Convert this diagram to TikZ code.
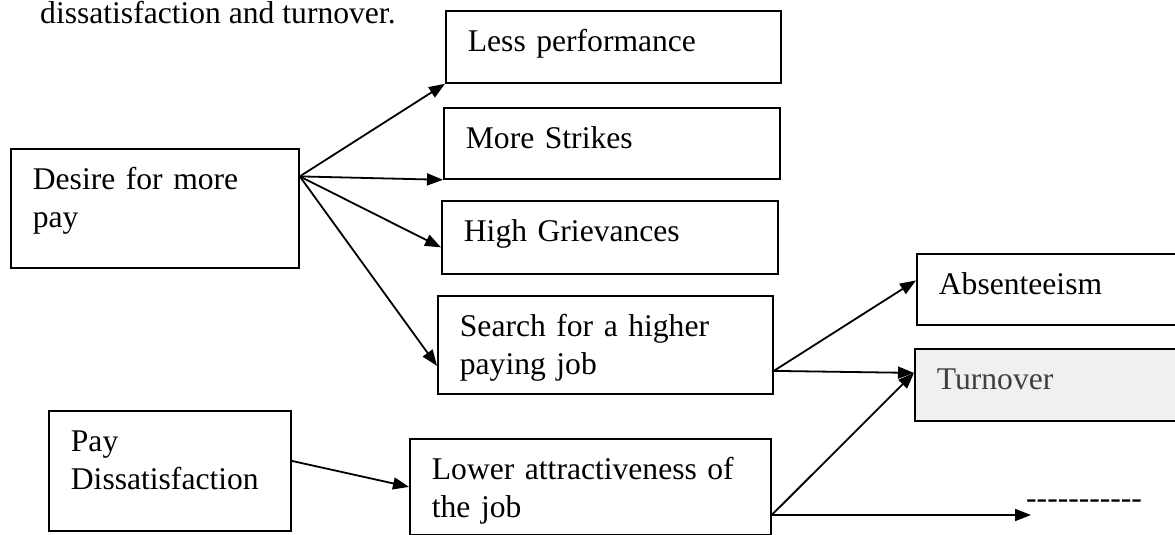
\documentclass[tikz,border=0pt]{standalone}
\usepackage{fontspec}
\setmainfont{Liberation Serif}
\usetikzlibrary{arrows.meta}

\newcommand{\bigtext}{\fontsize{31.6}{38}\selectfont}
\newcommand{\dashrun}{-\kern0pt-\kern0pt-\kern0pt-\kern0pt-\kern0pt-\kern0pt-\kern0pt-\kern0pt-\kern0pt-\kern0pt-}

\begin{document}
\begin{tikzpicture}[x=1pt,y=-1pt,>={Triangle[length=16pt,width=12pt]},
  box/.style={draw,line width=1.8pt,anchor=north west,align=left,inner xsep=22pt,inner ysep=0pt,text height=41pt,font=\bigtext},
  link/.style={->,line width=1.8pt}]
  \path[use as bounding box,clip] (0,0) rectangle (1175,535);

  \node[anchor=base west,inner sep=0pt,font=\bigtext] (caption) at (40,24) {dissatisfaction and turnover.};

  % causes
  \node[box,text width=244pt,text depth=78pt] (desire) at (10,148) {Desire for more\\pay};
  \node[box,text width=198pt,text depth=79pt] (paydis) at (48,410) {Pay\\Dissatisfaction};

  % effects
  \node[box,text width=291pt,text depth=31pt] (perf) at (445,10) {Less performance};
  \node[box,text width=292pt,text depth=30pt] (strikes) at (443,107) {More Strikes};
  \node[box,text width=292pt,text depth=32pt] (griev) at (441,200) {High Grievances};
  \node[box,text width=291pt,text depth=57pt] (search) at (437,295) {Search for a higher\\paying job};
  \node[box,text width=317pt,text depth=55pt] (lower) at (409,438) {Lower attractiveness of\\the job};
  \node[box,text width=225pt,text depth=30pt] (absent) at (916,253) {Absenteeism};
  \node[box,fill=gray!12,text=black!75,text width=227pt,text depth=31pt] (turnover) at (914,348) {Turnover};
  \node[anchor=west,inner sep=0pt,font=\bigtext] (etc) at (1026,504) {\dashrun};

  % links
  \draw[link] ([yshift=32pt]desire.east) -- (perf.south west);
  \draw[link] ([yshift=32pt]desire.east) -- (strikes.south west);
  \draw[link] ([yshift=32pt]desire.east) -- ([yshift=-10pt]griev.west);
  \draw[link] ([yshift=32pt]desire.east) -- ([yshift=-21pt]search.west);
  \draw[link] ([yshift=10pt]paydis.east) -- (lower.west);
  \draw[link] ([yshift=-26pt]search.east) -- ([yshift=9pt]absent.west);
  \draw[link] ([yshift=-26pt]search.east) -- ([yshift=12pt]turnover.west);
  \draw[link] ([yshift=-28pt]lower.east) -- ([yshift=12pt]turnover.west);
  \draw[link] ([yshift=-28pt]lower.east) -- ([shift={(5pt,-11pt)}]etc.west);
\end{tikzpicture}
\end{document}
